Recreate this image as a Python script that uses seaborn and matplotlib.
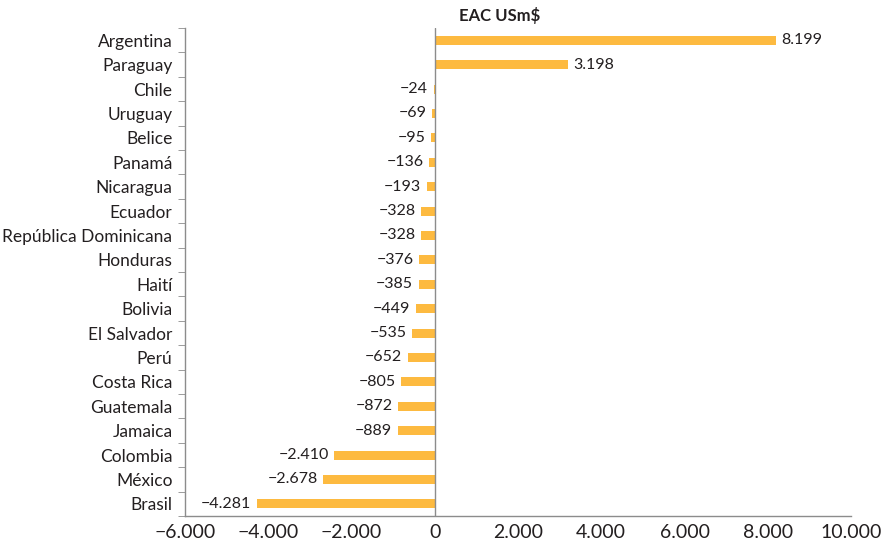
import matplotlib
matplotlib.use("Agg")
import matplotlib.pyplot as plt
from matplotlib.ticker import FixedLocator, FuncFormatter
import numpy as np
import pandas as pd
import seaborn as sns

# Datos del gráfico
paises = [
    "Argentina", "Paraguay", "Chile", "Uruguay", "Belice", "Panamá",
    "Nicaragua", "Ecuador", "República Dominicana", "Honduras", "Haití",
    "Bolivia", "El Salvador", "Perú", "Costa Rica", "Guatemala", "Jamaica",
    "Colombia", "México", "Brasil",
]
valores = [
    8199, 3198, -24, -69, -95, -136, -193, -328, -328, -376, -385,
    -449, -535, -652, -805, -872, -889, -2410, -2678, -4281,
]
x_ticks = [-6000, -4000, -2000, 0, 2000, 4000, 6000, 8000, 10000]
titulo = "EAC USm$"

BAR_COLOR = "#FDBA40"
AXIS_COLOR = "#8C8C8C"
TEXT_COLOR = "#231F20"


def fmt_miles(v):
    s = f"{abs(int(round(v))):,}".replace(",", ".")
    return ("\u2212" + s) if v < 0 else s


df = pd.DataFrame({"pais": paises, "valor": valores})

sns.set_style("white")
plt.rcParams["font.family"] = ["Lato", "DejaVu Sans"]

fig = plt.figure(figsize=(8.83, 5.5), dpi=100)
ax = fig.add_axes([0.2095, 0.0618, 0.7543, 0.8872])

sns.barplot(data=df, x="valor", y="pais", color=BAR_COLOR, saturation=1,
            width=0.37, orient="h", linewidth=0, ax=ax)

# Etiquetas de valor
for cont in ax.containers:
    ax.bar_label(cont, labels=[fmt_miles(v) for v in valores], padding=4,
                 fontsize=11.5, color=TEXT_COLOR)

ax.axvline(0, color=AXIS_COLOR, lw=1, zorder=3)

ax.set_xlim(-6000, 10000)
ax.set_ylim(len(paises) - 0.5, -0.5)
ax.xaxis.set_major_locator(FixedLocator(x_ticks))
ax.xaxis.set_major_formatter(FuncFormatter(lambda v, p: fmt_miles(v)))
ax.tick_params(axis="x", direction="in", length=6, color=AXIS_COLOR,
               labelsize=14, labelcolor=TEXT_COLOR, pad=6)

# Marcas del eje y entre categorías
ax.set_yticks(np.arange(len(paises)))
ax.set_yticklabels(paises)
ax.set_yticks(np.arange(len(paises) + 1) - 0.5, minor=True)
ax.tick_params(axis="y", which="major", length=0, labelsize=12.5,
               labelcolor=TEXT_COLOR, pad=9)
ax.tick_params(axis="y", which="minor", direction="out", length=5,
               color=AXIS_COLOR, left=True)

for side in ["top", "right"]:
    ax.spines[side].set_visible(False)
for side in ["left", "bottom"]:
    ax.spines[side].set_color(AXIS_COLOR)
    ax.spines[side].set_linewidth(1)

ax.set_xlabel("")
ax.set_ylabel("")
fig.text(0.566, 0.972, titulo, ha="center", va="center", fontsize=12,
         fontweight="bold", color=TEXT_COLOR)

fig.savefig("out.png", dpi=100)
